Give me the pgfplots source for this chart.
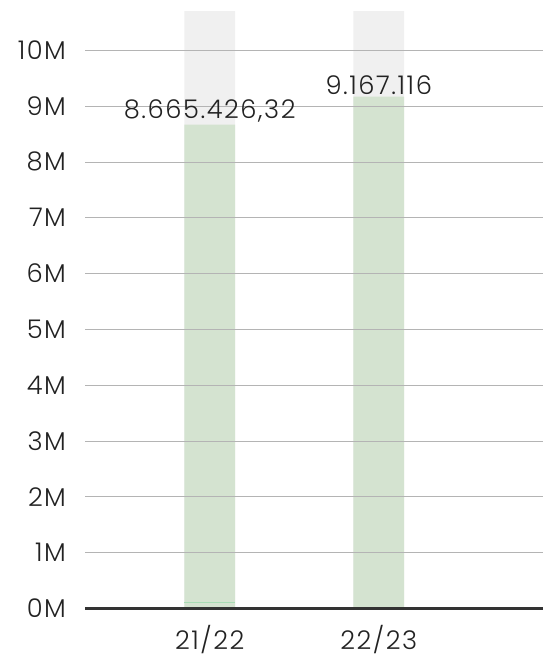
\documentclass[border=0pt]{standalone}
\usepackage{pgfplots}
\pgfplotsset{compat=1.18}
\usepackage{fontspec}
\setmainfont{Poppins}[UprightFont=* Light, LetterSpace=6]
\definecolor{bggray}{HTML}{F0F0F0}
\definecolor{barg}{HTML}{D4E3D0}
\definecolor{lineg}{HTML}{A8DCB5}
\definecolor{gridc}{HTML}{B4B4B4}
\definecolor{txt}{HTML}{222222}
\begin{document}
\begin{tikzpicture}
\begin{axis}[
  scale only axis, width=460bp, height=612bp,
  xmin=-0.735, xmax=1.97, ymin=0, ymax=10.9,
  axis lines=left,
  y axis line style={draw=none},
  x axis line style={-, line width=2.4pt, color=black!80},
  xtick={0,1}, xticklabels={21/22,22/23},
  ytick={0,1,...,10},
  yticklabels={0M,1M,2M,3M,4M,5M,6M,7M,8M,9M,10M},
  tick style={draw=none},
  ymajorgrids, grid style={gridc, line width=0.6pt},
  axis on top,
  ticklabel style={font=\fontsize{26}{30}\selectfont, text=txt},
  yticklabel style={xshift=-14bp},
  xticklabel style={anchor=north, inner sep=1pt, yshift=-14bp},
  clip=false,
]
\addplot[ybar, bar width=0.3, bar shift=0pt, fill=bggray, draw=none] coordinates {(0,10.7) (1,10.7)};
\addplot[ybar, bar width=0.3, bar shift=0pt, fill=barg, draw=none,
  nodes near coords, point meta=explicit symbolic,
  nodes near coords style={anchor=south, inner sep=2pt, text=txt, font=\fontsize{26}{30}\selectfont}]
  coordinates {(0,8.66542632)[8.665.426,32] (1,9.167116)[9.167.116]};
\addplot[lineg, line width=1.2pt] coordinates {(-0.15,0.1) (0.15,0.1)};
\end{axis}
\path (current axis.south west) ++(-86bp,-55bp) coordinate (a);
\path (a) rectangle (current axis.north east);
\end{tikzpicture}
\end{document}
